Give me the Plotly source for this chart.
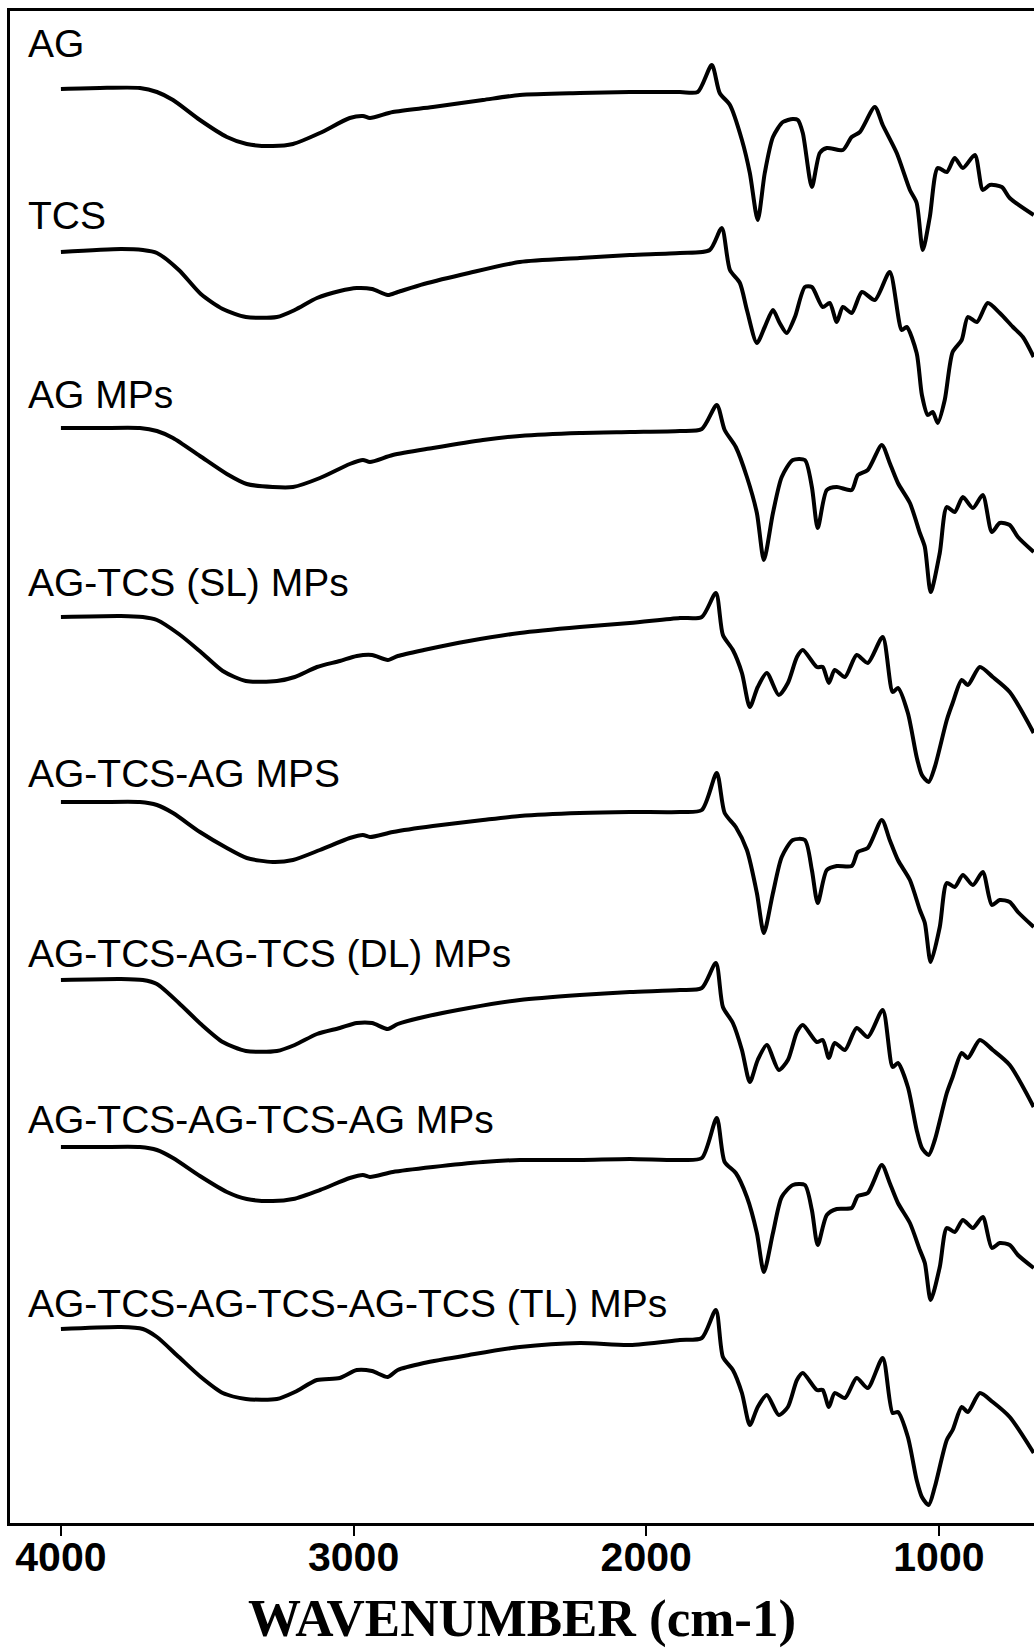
import plotly.graph_objects as go

# FTIR spectra of agar (AG) / trimethyl chitosan (TCS) microparticles.
# Each spectrum is stored as relative transmittance (a.u., 0 at 4000 cm-1)
# and stacked with a vertical offset.

series_names = [
    "AG",
    "TCS",
    "AG MPs",
    "AG-TCS (SL) MPs",
    "AG-TCS-AG MPS",
    "AG-TCS-AG-TCS (DL) MPs",
    "AG-TCS-AG-TCS-AG MPs",
    "AG-TCS-AG-TCS-AG-TCS (TL) MPs",
]

# stacking offsets (a.u.)
offsets = [143.4, 127.1, 109.5, 90.6, 72.1, 54.3, 37.6, 19.4]

# wavenumber grids (cm-1)
wn_left_ag = [4000, 3867, 3730, 3672, 3617, 3525, 3433, 3365, 3276, 3207, 3115,
              3013, 2968, 2944, 2866, 2729, 2558, 2432, 2227, 2056, 1885]
wn_left_tcs = [4000, 3795, 3720, 3672, 3597, 3522, 3447, 3368, 3262, 3201, 3125,
               3047, 2989, 2937, 2883, 2849, 2760, 2606, 2432, 2227, 2056, 1885]

wn_right_ag = [1824, 1776, 1749, 1714, 1673, 1646, 1619, 1595, 1567, 1533, 1499,
               1482, 1465, 1434, 1407, 1383, 1328, 1298, 1270, 1219, 1192, 1144,
               1099, 1076, 1055, 1031, 1004, 973, 946, 918, 877, 850, 826, 785,
               758, 676]
wn_right_agmp = [1810, 1759, 1732, 1694, 1656, 1622, 1598, 1567, 1537, 1499, 1458,
                 1434, 1414, 1383, 1349, 1298, 1277, 1243, 1195, 1168, 1140, 1099,
                 1065, 1048, 1028, 997, 973, 946, 918, 884, 850, 819, 792, 758,
                 730, 676]
wn_right_tcs = [1783, 1742, 1714, 1680, 1656, 1622, 1595, 1567, 1544, 1520, 1492,
                1458, 1434, 1397, 1373, 1349, 1328, 1298, 1263, 1219, 1168, 1127,
                1110, 1076, 1058, 1038, 1021, 1004, 980, 953, 922, 901, 870, 833,
                792, 747, 713, 676]
wn_right_layer = [1810, 1762, 1738, 1704, 1673, 1646, 1619, 1588, 1547, 1516, 1485,
                  1465, 1417, 1397, 1376, 1356, 1321, 1281, 1243, 1192, 1158, 1140,
                  1106, 1076, 1058, 1035, 1014, 973, 953, 922, 901, 860, 816, 758,
                  676]

# relative transmittance values
t_ag = [0, 0.1, 0.1, -0.3, -1.1, -3.1, -4.8, -5.5, -5.7, -5.5, -4.4, -2.9, -2.7,
        -2.9, -2.3, -1.8, -1.1, -0.6, -0.4, -0.3, -0.3,
        -0.3, 2.4, -0.4, -1.6, -5.1, -8.4, -13.1, -8.4, -4.8, -3.3, -3.0, -3.1,
        -4.4, -9.8, -6.4, -5.9, -6.1, -4.8, -4.3, -1.8, -3.6, -6.4, -10.1, -11.4,
        -16.1, -12.8, -7.9, -8.3, -6.9, -7.9, -6.6, -10.1, -9.6, -9.8, -10.9, -12.6]

t_tcs = [0, 0.3, 0.2, -0.1, -1.8, -4.2, -5.7, -6.5, -6.5, -5.8, -4.6, -3.9, -3.6,
         -3.7, -4.3, -4.0, -3.2, -2.1, -1.0, -0.6, -0.3, -0.1,
         0.2, 2.4, -1.8, -3.1, -5.8, -9.1, -7.5, -5.8, -7.1, -8.1, -6.5, -3.5,
         -3.5, -5.5, -5.1, -7.0, -5.5, -6.1, -4.0, -4.8, -2.0, -7.8, -7.5, -10.1,
         -14.3, -16.3, -16.0, -17.1, -14.8, -10.0, -8.8, -6.5, -7.0, -5.1, -6.1,
         -7.5, -8.5, -10.5]

t_ag_mps = [0, 0, 0, -0.3, -1.0, -2.8, -4.6, -5.6, -5.9, -5.9, -5.0, -3.6, -3.2,
            -3.4, -2.7, -2.0, -1.2, -0.8, -0.5, -0.4, -0.3,
            -0.1, 2.3, -0.2, -1.9, -4.9, -8.5, -13.2, -8.5, -4.9, -3.2, -3.2, -5.9,
            -10.0, -6.2, -5.9, -6.2, -4.7, -4.2, -1.7, -3.5, -5.5, -7.5, -10.5,
            -11.9, -16.4, -12.5, -7.9, -8.4, -6.9, -8.0, -6.7, -10.4, -9.5, -9.7,
            -10.9, -12.4]

t_sl = [0, 0.1, 0, -0.3, -1.7, -3.5, -5.4, -6.4, -6.4, -6.0, -5.0, -4.4, -3.9,
        -3.8, -4.3, -3.9, -3.3, -2.4, -1.6, -1.0, -0.6, -0.1,
        0, 2.4, -1.8, -3.3, -5.6, -9.0, -7.0, -5.6, -7.8, -6.6, -4.0, -3.3, -5.0,
        -5.0, -6.6, -5.3, -6.0, -3.8, -4.6, -2.0, -7.5, -7.1, -9.6, -14.0, -15.8,
        -16.5, -15.0, -10.3, -8.6, -6.3, -6.8, -5.0, -6.0, -7.5, -11.6]

t_ag_tcs_ag = [0, 0, 0, -0.3, -1.1, -3.0, -4.6, -5.6, -6.0, -5.8, -4.8, -3.6, -3.3,
               -3.5, -3.0, -2.4, -1.8, -1.4, -1.1, -1.0, -1.0,
               -0.8, 2.9, -1.1, -2.5, -4.8, -9.1, -13.1, -9.1, -5.5, -3.8, -3.8,
               -6.8, -10.1, -6.8, -6.4, -6.4, -5.0, -4.6, -1.8, -3.8, -5.8, -7.8,
               -10.8, -12.1, -16.0, -12.5, -8.1, -8.5, -7.3, -8.3, -7.0, -10.3,
               -9.8, -10.0, -11.0, -12.5]

t_dl = [0, 0.1, 0, -0.4, -2.3, -4.4, -6.2, -7.1, -7.1, -6.5, -5.4, -4.8, -4.3,
        -4.3, -4.9, -4.4, -3.7, -2.8, -2.0, -1.5, -1.2, -1.0,
        -0.8, 1.7, -2.7, -4.3, -7.0, -10.2, -8.0, -6.5, -9.0, -8.0, -5.2, -4.5,
        -6.2, -6.0, -7.8, -6.3, -7.0, -4.8, -5.7, -3.0, -8.7, -8.3, -10.7, -15.0,
        -16.8, -17.5, -16.0, -11.3, -9.7, -7.3, -7.8, -6.0, -7.0, -8.5, -12.7]

t_ag_tcs_ag_tcs_ag = [0, 0, 0, -0.3, -1.1, -2.9, -4.5, -5.2, -5.4, -5.2, -4.3, -3.1,
                      -2.8, -3.0, -2.5, -2.0, -1.5, -1.3, -1.3, -1.2, -1.3,
                      -1.1, 2.9, -1.5, -2.6, -5.0, -8.6, -12.5, -8.6, -5.0, -3.8,
                      -3.8, -6.3, -9.8, -6.8, -6.2, -6.1, -4.9, -4.6, -1.8, -3.6,
                      -5.6, -7.6, -10.3, -11.6, -15.3, -12.0, -8.1, -8.5, -7.3,
                      -8.1, -7.0, -10.1, -9.6, -9.8, -10.8, -12.1]

t_tl = [0, 0.2, 0, -0.8, -2.8, -4.8, -6.4, -7.0, -7.0, -6.3, -5.1, -4.9, -4.1,
        -4.2, -4.8, -4.1, -3.4, -2.6, -1.8, -1.4, -1.6, -1.1,
        -0.9, 1.9, -2.8, -4.1, -6.4, -9.6, -7.8, -6.6, -8.6, -7.8, -5.1, -4.4,
        -6.1, -6.1, -7.8, -6.4, -6.9, -4.9, -5.9, -2.9, -8.4, -8.3, -10.8, -15.1,
        -16.8, -17.6, -15.8, -11.1, -10.1, -7.8, -8.3, -6.4, -7.3, -8.8, -12.4]

wavenumbers = [
    wn_left_ag + wn_right_ag,
    wn_left_tcs + wn_right_tcs,
    wn_left_ag + wn_right_agmp,
    wn_left_tcs + wn_right_layer,
    wn_left_ag + wn_right_agmp,
    wn_left_tcs + wn_right_layer,
    wn_left_ag + wn_right_agmp,
    wn_left_tcs + wn_right_layer,
]
transmittance = [t_ag, t_tcs, t_ag_mps, t_sl, t_ag_tcs_ag, t_dl,
                 t_ag_tcs_ag_tcs_ag, t_tl]

x_ticks = [4000, 3000, 2000, 1000]
x_title = "WAVENUMBER (cm-1)"

fig = go.Figure()
for name, wn, t, off in zip(series_names, wavenumbers, transmittance, offsets):
    fig.add_trace(go.Scatter(
        x=wn,
        y=[v + off for v in t],
        mode="lines",
        name=name,
        line=dict(color="black", width=4, shape="spline", smoothing=0.7),
        hoverinfo="skip",
    ))

# series labels, left-aligned above each spectrum
label_y = [148.0, 130.8, 112.9, 94.1, 75.0, 57.0, 40.4, 22.0]
for name, ly in zip(series_names, label_y):
    fig.add_annotation(
        x=4119, y=ly, xref="x", yref="y",
        text=name, showarrow=False,
        xanchor="left", yanchor="middle",
        font=dict(family="Liberation Sans, Arial, sans-serif", size=39,
                  color="black"),
    )

# x-axis title placed under the tick labels
fig.add_annotation(
    x=0.5, y=-0.063, xref="paper", yref="paper",
    text=x_title, showarrow=False,
    xanchor="center", yanchor="middle",
    font=dict(family="Liberation Serif, Times New Roman, serif",
              size=53, color="black", weight="bold"),
)

fig.update_layout(
    width=1034,
    height=1648,
    margin=dict(l=10, r=0, t=11, b=125),
    paper_bgcolor="white",
    plot_bgcolor="white",
    showlegend=False,
    xaxis=dict(
        range=[4174, 675],
        tickvals=x_ticks,
        ticktext=[str(v) for v in x_ticks],
        ticks="outside",
        ticklen=10,
        tickwidth=2,
        tickcolor="black",
        ticklabelstandoff=-14,
        showgrid=False,
        zeroline=False,
        showline=True,
        linecolor="black",
        linewidth=3,
        mirror=True,
        tickfont=dict(family="Liberation Sans, Arial, sans-serif",
                      size=41, color="black", weight="bold"),
    ),
    yaxis=dict(
        range=[0, 151.2],
        showticklabels=False,
        ticks="",
        showgrid=False,
        zeroline=False,
        showline=True,
        linecolor="black",
        linewidth=2.5,
        mirror=False,
    ),
)

fig.write_html("out.html")
